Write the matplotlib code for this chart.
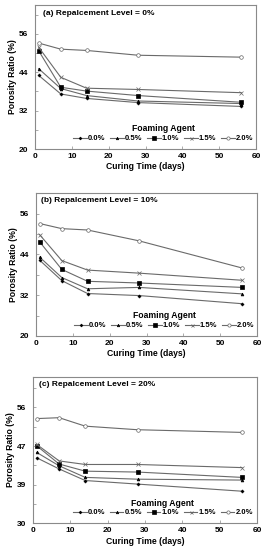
import matplotlib
matplotlib.use("Agg")
import matplotlib.pyplot as plt
import numpy as np

plt.rcParams['font.family'] = ['Liberation Sans', 'DejaVu Sans']
plt.rcParams['font.weight'] = 'bold'

days = [1, 7, 14, 28, 56]
series_labels = ['0.0%', '0.5%', '1.0%', '1.5%', '2.0%']

# Panel (a) replacement level 0%
a_00 = [43.0, 37.2, 35.8, 34.5, 33.3]
a_05 = [45.1, 38.9, 36.7, 35.0, 34.2]
a_10 = [50.7, 39.3, 38.1, 36.7, 34.6]
a_15 = [51.8, 42.4, 39.0, 38.6, 37.6]
a_20 = [53.1, 51.2, 50.8, 49.3, 48.7]

# Panel (b) replacement level 10%
b_00 = [42.3, 36.3, 32.5, 31.9, 29.5]
b_05 = [43.2, 37.2, 33.9, 34.3, 32.4]
b_10 = [47.7, 39.6, 36.1, 35.6, 34.3]
b_15 = [49.8, 42.2, 39.4, 38.5, 36.4]
b_20 = [53.1, 51.6, 51.2, 48.0, 40.0]

# Panel (c) replacement level 20%
c_00 = [44.7, 42.2, 39.6, 38.8, 37.2]
c_05 = [45.9, 42.9, 40.3, 39.9, 39.7]
c_10 = [47.4, 43.3, 41.7, 41.5, 40.3]
c_15 = [47.7, 44.0, 43.2, 43.2, 42.5]
c_20 = [53.5, 53.7, 51.8, 51.0, 50.4]

titles = ['(a) Repalcement Level = 0%', '(b) Repalcement Level = 10%', '(c) Repalcement Level = 20%']
yticks_a = [20, 32, 44, 56]
yticks_b = [20, 32, 44, 56]
yticks_c = [30, 38.667, 47.333, 56]
yticklabels_c = ['30', '39', '47', '56']
xticks = [0, 10, 20, 30, 40, 50, 60]

fig = plt.figure(figsize=(2.64, 5.5), dpi=100)

positions = [
    [35/264, 1-149/550, 221/264, 144/550],
    [36/264, 1-336/550, 221/264, 142.7/550],
    [33/264, 1-523.3/550, 224/264, 146.6/550],
]
data = [
    [a_00, a_05, a_10, a_15, a_20],
    [b_00, b_05, b_10, b_15, b_20],
    [c_00, c_05, c_10, c_15, c_20],
]
ylims = [(20, 65), (20, 61.5), (30, 62.9)]
yticks_all = [yticks_a, yticks_b, yticks_c]
yticklabels_all = [[str(t) for t in yticks_a], [str(t) for t in yticks_b], yticklabels_c]
title_pos = [(0.036, 0.944), (0.023, 0.948), (0.027, 0.948)]

markers = ['P', '^', 's', 'x', 'o']
msizes = [2.0, 2.0, 2.8, 2.4, 2.6]
faces = ['black', 'black', 'black', 'gray', 'white']
line_color = '#6a6a6a'
spine_color = '#8a8a8a'

for i in range(3):
    ax = fig.add_axes(positions[i])
    for j, ys in enumerate(data[i]):
        ax.plot(days, ys, color=line_color, lw=0.8, marker=markers[j], ms=msizes[j],
                mfc=faces[j], mec='black' if j < 3 else '#666666', mew=0.5,
                label=series_labels[j])
    ax.set_xlim(0, 60)
    ax.set_ylim(*ylims[i])
    ax.set_xticks(xticks)
    ax.set_xticklabels([str(t) for t in xticks])
    ax.set_yticks(yticks_all[i])
    ax.set_yticklabels(yticklabels_all[i])
    lo = yticks_all[i][0]
    step = yticks_all[i][1] - yticks_all[i][0]
    ax.set_yticks([lo + step * (k + 0.5) for k in range(4)], minor=True)
    ax.tick_params(axis='both', which='both', direction='in', length=2, width=0.5,
                   labelsize=6, color=spine_color, pad=3)
    ax.tick_params(axis='y', which='major', pad=5)
    for s in ax.spines.values():
        s.set_color(spine_color)
        s.set_linewidth(0.8)
    ax.set_xlabel('Curing Time (days)', fontsize=6.2, fontweight='bold', labelpad=1.5)
    ax.set_ylabel('Porosity Ratio (%)', fontsize=6.2, fontweight='bold', labelpad=1)
    ax.text(title_pos[i][0], title_pos[i][1], titles[i], transform=ax.transAxes,
            fontsize=6, fontweight='bold', va='center', ha='left')
    leg = ax.legend(ncol=5, title='Foaming Agent', frameon=False, loc='lower center',
                    bbox_to_anchor=(0.58, 0.01), fontsize=5.5, title_fontsize=6.2,
                    handlelength=1.8, handletextpad=0.15, columnspacing=0.6,
                    borderpad=0.2, labelspacing=0.2, markerscale=0.9)
    leg.get_title().set_fontweight('bold')

fig.savefig('out.png', dpi=100)
